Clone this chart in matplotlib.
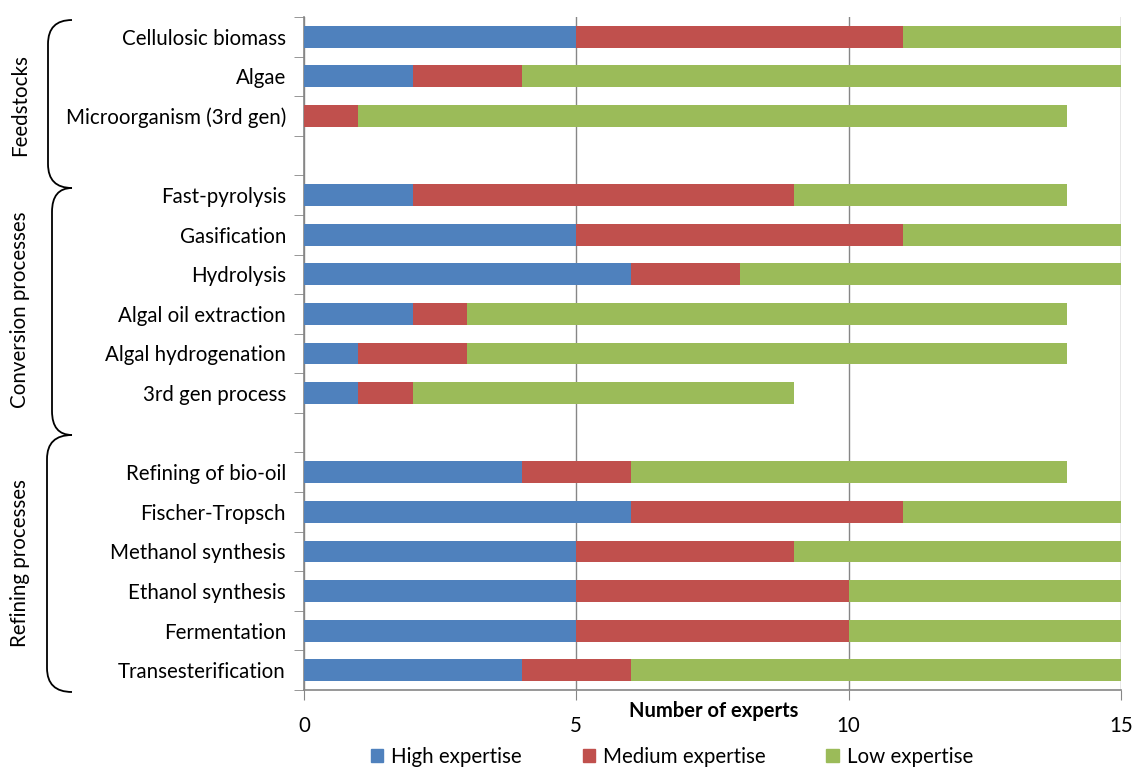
import matplotlib.pyplot as plt
import matplotlib.patches as mpatches
from matplotlib.path import Path
import numpy as np

plt.rcParams['font.family'] = ['Lato', 'DejaVu Sans']

categories = ["Cellulosic biomass", "Algae", "Microorganism (3rd gen)", "",
              "Fast-pyrolysis", "Gasification", "Hydrolysis", "Algal oil extraction",
              "Algal hydrogenation", "3rd gen process", "",
              "Refining of bio-oil", "Fischer-Tropsch", "Methanol synthesis",
              "Ethanol synthesis", "Fermentation", "Transesterification"]
high = [5, 2, 0, 0, 2, 5, 6, 2, 1, 1, 0, 4, 6, 5, 5, 5, 4]
medium = [6, 2, 1, 0, 7, 6, 2, 1, 2, 1, 0, 2, 5, 4, 5, 5, 2]
low = [4, 11, 13, 0, 5, 4, 7, 11, 11, 7, 0, 8, 4, 6, 5, 5, 9]
series_names = ["High expertise", "Medium expertise", "Low expertise"]
colors = ["#4F81BD", "#C0504D", "#9BBB59"]
groups = ["Feedstocks", "Conversion processes", "Refining processes"]

W, H = 1132, 769
fs = 14.8
fig = plt.figure(figsize=(W / 100, H / 100), dpi=100)
ax = fig.add_axes([304 / W, 1 - 690 / H, (1121 - 304) / W, (690 - 17) / H])

y = np.arange(len(categories))
left = np.zeros(len(categories))
for vals, name, c in zip([high, medium, low], series_names, colors):
    ax.barh(y, vals, left=left, height=0.55, color=c, label=name, zorder=3)
    left = left + np.array(vals)

ax.set_xlim(0, 15)
ax.set_ylim(len(categories) - 0.5, -0.5)
ax.set_xticks([0, 5, 10, 15])
ax.set_xticklabels(["0", "5", "10", "15"], fontsize=fs)
ax.tick_params(axis='x', length=7, color="#868686", pad=12)
ax.set_yticks(y)
ax.set_yticklabels(categories, fontsize=fs)
ax.tick_params(axis='y', which='major', length=0, pad=13)
ax.set_yticks(np.arange(-0.5, len(categories)), minor=True)
ax.tick_params(axis='y', which='minor', length=7, color="#868686")
ax.grid(axis='x', color="#868686", linewidth=1, zorder=0)
for s in ['top', 'right']:
    ax.spines[s].set_visible(False)
for s in ['left', 'bottom']:
    ax.spines[s].set_color("#868686")
    ax.spines[s].set_linewidth(1.2)

fig.text(714 / W, 1 - 711 / H, "Number of experts", fontsize=14.5,
         fontweight='bold', ha='center', va='center')

handles = [mpatches.Patch(color=c) for c in colors]
fig.legend(handles, series_names, loc='center', bbox_to_anchor=(672 / W, 1 - 757 / H),
           ncol=3, frameon=False, fontsize=fs, handlelength=0.6, handleheight=0.6,
           columnspacing=2.95, handletextpad=0.4)


def brace(y0, y1, xl, xr=72):
    # bracket shape with rounded ends, in pixel coords
    r = 24
    verts = [(xr, y0), (xl, y0), (xl, y0 + r),
             (xl, y1 - r), (xl, y1), (xr, y1)]
    codes = [Path.MOVETO, Path.CURVE3, Path.CURVE3,
             Path.LINETO, Path.CURVE3, Path.CURVE3]
    verts = [(vx / W, 1 - vy / H) for vx, vy in verts]
    fig.patches.append(mpatches.PathPatch(Path(verts, codes), fill=False, lw=1.3,
                                          edgecolor='black', transform=fig.transFigure))


brace(20, 188, 48)
brace(188, 435, 52)
brace(435, 692, 47)

fig.text(20 / W, 1 - 105 / H, groups[0], rotation=90, fontsize=fs, ha='center', va='center')
fig.text(20 / W, 1 - 310 / H, groups[1], rotation=90, fontsize=fs, ha='center', va='center')
fig.text(20 / W, 1 - 563 / H, groups[2], rotation=90, fontsize=fs, ha='center', va='center')

fig.savefig("out.png", dpi=100)
